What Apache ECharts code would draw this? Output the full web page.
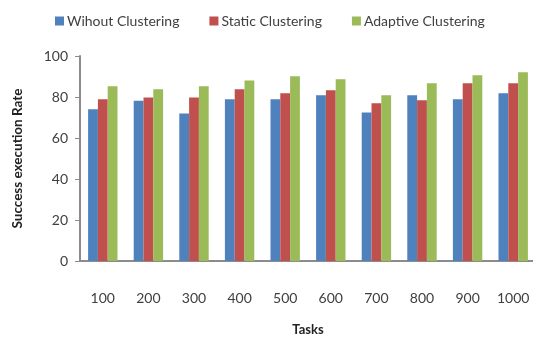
<!DOCTYPE html>
<html>
<head>
<meta charset="utf-8">
<script src="https://cdn.jsdelivr.net/npm/echarts@6/dist/echarts.min.js"></script>
<style>
  html, body { margin: 0; padding: 0; background: #fff; }
  #chart { width: 533px; height: 337px; }
</style>
</head>
<body>
<div id="chart"></div>
<script>
// Task counts on the x axis
const tasks = ['100', '200', '300', '400', '500', '600', '700', '800', '900', '1000'];

// Success execution rate per strategy
const withoutClustering = [74, 78.2, 72, 78.9, 78.9, 80.8, 72.5, 80.8, 78.9, 81.8];
const staticClustering = [78.9, 79.8, 79.8, 83.8, 81.8, 83.3, 76.9, 78.4, 86.7, 86.7];
const adaptiveClustering = [85.2, 83.8, 85.2, 88.1, 90.1, 88.6, 80.8, 86.7, 90.6, 92.1];

const seriesNames = ['Wihout Clustering', 'Static Clustering', 'Adaptive Clustering'];
const seriesColors = ['#4F81BD', '#C0504D', '#9BBB59'];

const fontFamily = 'Lato, "Open Sans", sans-serif';
const axisGray = '#8C8C8C';
const textColor = '#404040';

const chart = echarts.init(document.getElementById('chart'), null, { renderer: 'canvas' });

const values = [withoutClustering, staticClustering, adaptiveClustering];

chart.setOption({
  animation: false,
  backgroundColor: '#fff',
  textStyle: { fontFamily: fontFamily },
  legend: {
    top: 9,
    left: 50,
    itemWidth: 9,
    itemHeight: 9,
    itemGap: 30,
    icon: 'rect',
    textStyle: { fontSize: 14, color: textColor, fontFamily: fontFamily, padding: [0, 0, 0, -2] },
    data: seriesNames
  },
  grid: {
    left: 80,
    right: -3,
    top: 56,
    bottom: 76,
    outerBoundsMode: 'none',
    containLabel: false
  },
  xAxis: {
    type: 'category',
    data: tasks,
    name: 'Tasks',
    nameLocation: 'middle',
    nameGap: 62,
    nameTextStyle: { fontSize: 13, fontWeight: 'bold', color: '#222', fontFamily: fontFamily },
    axisLine: { lineStyle: { color: axisGray, width: 2 } },
    axisTick: { show: false },
    axisLabel: { margin: 30, fontSize: 14, color: textColor, fontFamily: fontFamily }
  },
  yAxis: {
    type: 'value',
    min: 0,
    max: 100,
    interval: 20,
    name: 'Success execution Rate',
    nameLocation: 'middle',
    nameGap: 55,
    nameTextStyle: { fontSize: 13.5, fontWeight: 'bold', color: '#222', fontFamily: fontFamily },
    axisLine: { show: true, lineStyle: { color: axisGray, width: 2 } },
    axisTick: { show: true, length: 5, lineStyle: { color: axisGray } },
    splitLine: { show: false },
    axisLabel: { margin: 12, fontSize: 14, color: textColor, fontFamily: fontFamily }
  },
  series: seriesNames.map((name, i) => ({
    name: name,
    type: 'bar',
    data: values[i],
    barWidth: 9.8,
    barGap: '0%',
    itemStyle: { color: seriesColors[i] }
  }))
});
</script>
</body>
</html>
